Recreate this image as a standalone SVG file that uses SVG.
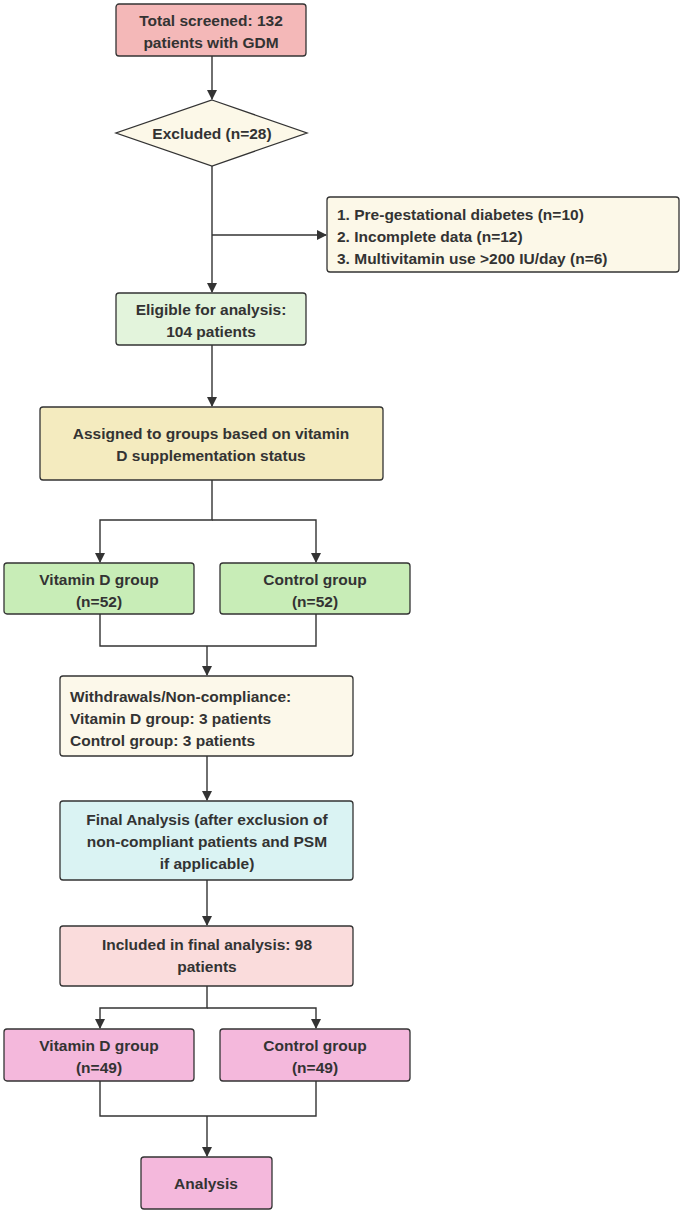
<svg xmlns="http://www.w3.org/2000/svg" width="685" height="1214" viewBox="0 0 685 1214">
<style>
.n{stroke:#333;stroke-width:1.3}
text{font-family:"Liberation Sans",Arial,sans-serif;font-weight:bold;font-size:15.5px;fill:#333}
.c{text-anchor:middle}
.e{fill:none;stroke:#333;stroke-width:1.4}
</style>
<defs><marker id="a" markerWidth="10" markerHeight="10" refX="9" refY="5" orient="auto" markerUnits="userSpaceOnUse"><path d="M0,0L10,5L0,10z" fill="#333"/></marker></defs>
<rect width="685" height="1214" fill="#fff"/>
<g id="connectors">
<path class="e" d="M212,56V99" marker-end="url(#a)"/>
<path class="e" d="M212,166V292" marker-end="url(#a)"/>
<path class="e" d="M212,235H326" marker-end="url(#a)"/>
<path class="e" d="M212,345V406" marker-end="url(#a)"/>
<path class="e" d="M212,480V520H100V562" marker-end="url(#a)"/>
<path class="e" d="M212,520H316V562" marker-end="url(#a)"/>
<path class="e" d="M100,614V646H316V614"/>
<path class="e" d="M207,646V675" marker-end="url(#a)"/>
<path class="e" d="M207,756V800" marker-end="url(#a)"/>
<path class="e" d="M207,880V925" marker-end="url(#a)"/>
<path class="e" d="M207,986V1008H100V1028" marker-end="url(#a)"/>
<path class="e" d="M207,1008H316V1028" marker-end="url(#a)"/>
<path class="e" d="M100,1081V1116H316V1081"/>
<path class="e" d="M207,1116V1156" marker-end="url(#a)"/>
</g>
<g id="screened"><rect class="n" x="116" y="4" width="190" height="52" rx="3" fill="#f4b8b8"/><text class="c" x="211" y="26">Total screened: 132</text><text class="c" x="211" y="48">patients with GDM</text></g>
<g id="excluded"><polygon class="n" points="212,100 307,133 212,166 116,133" fill="#fcf8e8"/><text class="c" x="212" y="139">Excluded (n=28)</text></g>
<g id="reasons"><rect class="n" x="327" y="197" width="352" height="75" rx="3" fill="#fcf8e8"/><text x="337" y="220">1. Pre-gestational diabetes (n=10)</text><text x="337" y="242">2. Incomplete data (n=12)</text><text x="337" y="264">3. Multivitamin use &gt;200 IU/day (n=6)</text></g>
<g id="eligible"><rect class="n" x="116" y="293" width="190" height="52" rx="3" fill="#e3f4dc"/><text class="c" x="211" y="315">Eligible for analysis:</text><text class="c" x="211" y="337">104 patients</text></g>
<g id="assigned"><rect class="n" x="40" y="407" width="343" height="73" rx="3" fill="#f4ebbf"/><text class="c" x="211" y="439">Assigned to groups based on vitamin</text><text class="c" x="211" y="461">D supplementation status</text></g>
<g id="vitd1"><rect class="n" x="4" y="563" width="190" height="51" rx="3" fill="#c8edb7"/><text class="c" x="99" y="585">Vitamin D group</text><text class="c" x="99" y="607">(n=52)</text></g>
<g id="ctrl1"><rect class="n" x="220" y="563" width="190" height="51" rx="3" fill="#c8edb7"/><text class="c" x="315" y="585">Control group</text><text class="c" x="315" y="607">(n=52)</text></g>
<g id="withdrawals"><rect class="n" x="60" y="676" width="293" height="80" rx="3" fill="#fcf8ea"/><text x="70" y="702">Withdrawals/Non-compliance:</text><text x="70" y="724">Vitamin D group: 3 patients</text><text x="70" y="746">Control group: 3 patients</text></g>
<g id="final"><rect class="n" x="60" y="801" width="293" height="79" rx="3" fill="#daf3f3"/><text class="c" x="207" y="825">Final Analysis (after exclusion of</text><text class="c" x="207" y="847">non-compliant patients and PSM</text><text class="c" x="207" y="869">if applicable)</text></g>
<g id="included"><rect class="n" x="60" y="926" width="293" height="60" rx="3" fill="#fadcdc"/><text class="c" x="207" y="950">Included in final analysis: 98</text><text class="c" x="207" y="972">patients</text></g>
<g id="vitd2"><rect class="n" x="4" y="1029" width="190" height="52" rx="3" fill="#f4b8dc"/><text class="c" x="99" y="1051">Vitamin D group</text><text class="c" x="99" y="1073">(n=49)</text></g>
<g id="ctrl2"><rect class="n" x="220" y="1029" width="190" height="52" rx="3" fill="#f4b8dc"/><text class="c" x="315" y="1051">Control group</text><text class="c" x="315" y="1073">(n=49)</text></g>
<g id="analysis"><rect class="n" x="141" y="1157" width="131" height="52" rx="3" fill="#f4b8dc"/><text class="c" x="206" y="1189">Analysis</text></g>
</svg>
